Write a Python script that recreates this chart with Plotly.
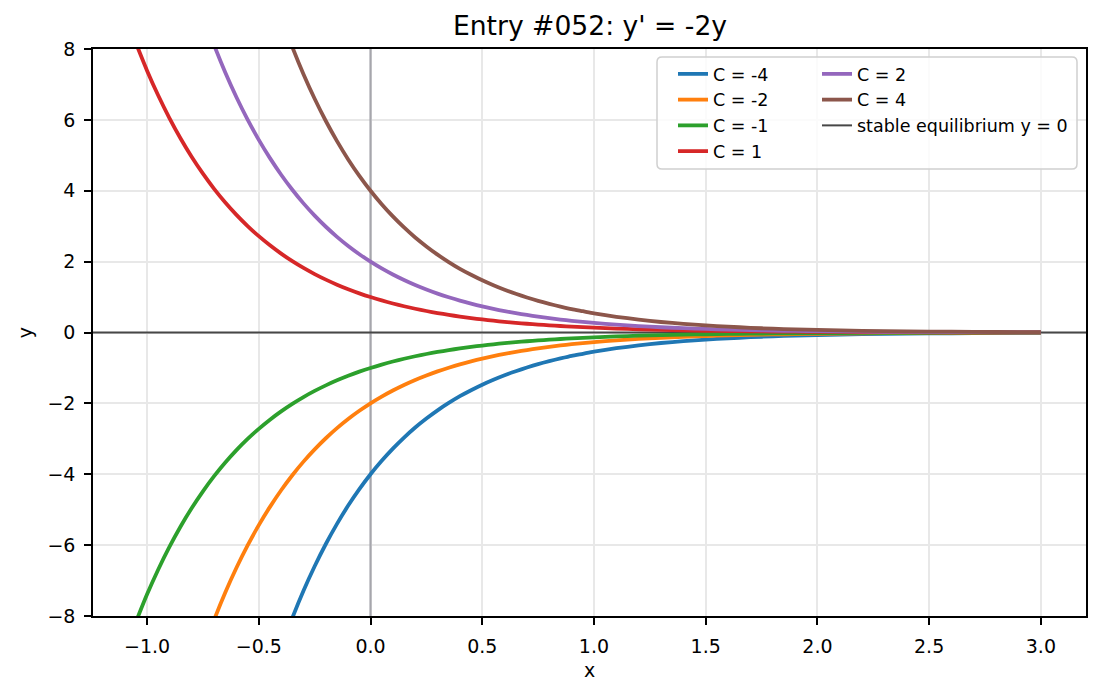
import plotly.graph_objects as go

# ---- data ----
C_values = [-4, -2, -1, 1, 2, 4]
colors = ["#1f77b4", "#ff7f0e", "#2ca02c", "#d62728", "#9467bd", "#8c564b"]
x_samples = [-1.05, -1.00, -0.95, -0.90, -0.85, -0.80, -0.75, -0.70, -0.65, -0.60,
             -0.55, -0.50, -0.45, -0.40, -0.35, -0.30, -0.25, -0.20, -0.15, -0.10,
             -0.05, 0.00, 0.05, 0.10, 0.15, 0.20, 0.25, 0.30, 0.35, 0.40,
             0.45, 0.50, 0.55, 0.60, 0.65, 0.70, 0.75, 0.80, 0.85, 0.90,
             0.95, 1.00, 1.10, 1.20, 1.30, 1.40, 1.50, 1.60, 1.70, 1.80,
             1.90, 2.00, 2.20, 2.40, 2.60, 2.80, 3.00]
# unit solution curve (C = 1)
base_curve = [8.166, 7.389, 6.686, 6.050, 5.474, 4.953, 4.482, 4.055, 3.669, 3.320,
              3.004, 2.718, 2.460, 2.226, 2.014, 1.822, 1.649, 1.492, 1.350, 1.221,
              1.105, 1.000, 0.905, 0.819, 0.741, 0.670, 0.607, 0.549, 0.497, 0.449,
              0.407, 0.368, 0.333, 0.301, 0.273, 0.247, 0.223, 0.202, 0.183, 0.165,
              0.150, 0.135, 0.111, 0.091, 0.074, 0.061, 0.050, 0.041, 0.033, 0.027,
              0.022, 0.018, 0.012, 0.008, 0.0055, 0.0037, 0.0025]
x_ticks = [-1.0, -0.5, 0.0, 0.5, 1.0, 1.5, 2.0, 2.5, 3.0]
x_tick_labels = ["\u22121.0", "\u22120.5", "0.0", "0.5", "1.0", "1.5", "2.0", "2.5", "3.0"]
y_ticks = [-8, -6, -4, -2, 0, 2, 4, 6, 8]
y_tick_labels = ["\u22128", "\u22126", "\u22124", "\u22122", "0", "2", "4", "6", "8"]
x_range = [-1.242, 3.202]
y_range = [-8, 8]

W, H = 1101, 696
L, R, T, B = 93, 15, 49, 80
PW, PH = W - L - R, H - T - B

def px_x(p):
    return (p - L) / PW

def px_y(p):
    return (H - B - p) / PH

FONT = "DejaVu Sans"
fig = go.Figure()

# vertical reference line x = 0
fig.add_trace(go.Scatter(x=[0, 0], y=y_range, mode="lines",
                         line=dict(color="#a6a6ac", width=2.2),
                         showlegend=False, hoverinfo="skip"))
# equilibrium line y = 0
fig.add_trace(go.Scatter(x=x_range, y=[0, 0], mode="lines",
                         line=dict(color="#474747", width=2),
                         name="stable equilibrium y = 0",
                         legend="legend2", legendrank=1000))

for i, (c, col) in enumerate(zip(C_values, colors)):
    yv = [c * b for b in base_curve]
    fig.add_trace(go.Scatter(x=x_samples, y=yv, mode="lines",
                             line=dict(color=col, width=3.8, shape="spline", smoothing=0.6),
                             name=f"C = {c}",
                             legend="legend" if c < 2 else "legend2",
                             legendrank=i + 1))

axis_common = dict(showline=True, linecolor="black", linewidth=1.5, mirror=True,
                   ticks="outside", ticklen=7, tickwidth=1.5, tickcolor="black",
                   showgrid=True, gridcolor="#e8e8e8", gridwidth=1.5,
                   zeroline=False, tickfont=dict(family=FONT, size=19, color="black"),
                   ticklabelstandoff=5)

fig.update_xaxes(range=x_range, tickvals=x_ticks, ticktext=x_tick_labels,
                 title=dict(text="x", font=dict(family=FONT, size=19, color="black"), standoff=8),
                 **axis_common)
fig.update_yaxes(range=y_range, tickvals=y_ticks, ticktext=y_tick_labels,
                 title=dict(text="y", font=dict(family=FONT, size=19, color="black"), standoff=10),
                 **axis_common)

# legend frame (rounded)
bx0, bx1, by0, by1 = 657, 1077, 57, 169
r = 5
rx, ry = r / PW, r / PH
X0, X1, Y0, Y1 = px_x(bx0), px_x(bx1), px_y(by1), px_y(by0)
path = (f"M {X0+rx},{Y0} L {X1-rx},{Y0} Q {X1},{Y0} {X1},{Y0+ry} "
        f"L {X1},{Y1-ry} Q {X1},{Y1} {X1-rx},{Y1} L {X0+rx},{Y1} "
        f"Q {X0},{Y1} {X0},{Y1-ry} L {X0},{Y0+ry} Q {X0},{Y0} {X0+rx},{Y0} Z")
fig.add_shape(type="path", path=path, xref="paper", yref="paper",
              line=dict(color="#d0d0d0", width=1.5),
              fillcolor="rgba(255,255,255,0.8)", layer="above")

leg_common = dict(bgcolor="rgba(0,0,0,0)", borderwidth=0,
                  font=dict(family=FONT, size=17.5, color="black"),
                  xanchor="left", yanchor="top", orientation="v",
                  traceorder="normal", itemclick=False, itemdoubleclick=False)

fig.update_layout(
    width=W, height=H,
    margin=dict(l=L, r=R, t=T, b=B),
    paper_bgcolor="white", plot_bgcolor="white",
    font=dict(family=FONT, color="black"),
    title=dict(text="Entry #052: y' = -2y", x=px_x(590) * PW / W + L / W, xanchor="center",
               y=1 - 26 / H, yanchor="middle", yref="container",
               font=dict(family=FONT, size=26.6, color="black")),
    legend=dict(x=px_x(673), y=px_y(56), **leg_common),
    legend2=dict(x=px_x(817), y=px_y(56), **leg_common),
)

fig.write_html("out.html")
